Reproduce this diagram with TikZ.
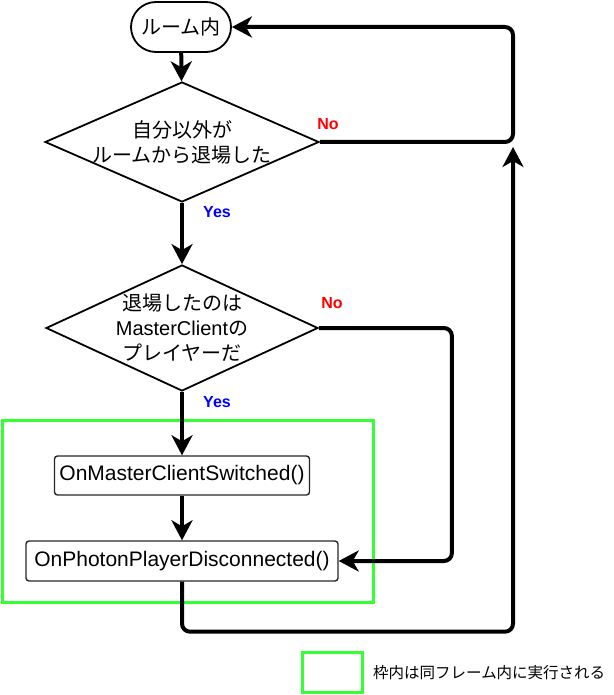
\documentclass[tikz,border=0pt]{standalone}
\usepackage{fontspec}
\setmainfont{Liberation Sans}
\newfontfamily\jp{Noto Sans CJK JP}
\usetikzlibrary{arrows.meta,shapes.geometric,positioning}
\definecolor{wakuiro}{RGB}{51,255,51}

\begin{document}
\begin{tikzpicture}[x=1pt, y=-1pt,
    flow/.style={line width=4pt, rounded corners=8pt, -{Stealth[length=20pt, width=21pt, inset=6pt]}},
    hantei/.style={draw, line width=1.8pt, diamond, shape aspect=2.3, inner sep=-8pt, align=center, font=\fontsize{20}{25}\selectfont},
    shori/.style={draw=black!85, line width=1.4pt, rounded corners=3pt, font=\fontsize{21}{24}\selectfont},
    yes/.style={text=blue, font=\fontsize{16}{18}\selectfont\bfseries},
    no/.style={text=red, font=\fontsize{16}{18}\selectfont\bfseries},
    waku/.style={draw=wakuiro, line width=3pt}]

    \useasboundingbox (0,0) rectangle (613,695);

    % 同フレームの枠の描画
    \draw[waku] (2,420) rectangle (373,602);

    % ノードの描画
    \node[draw, line width=1.8pt, rounded corners=25pt, minimum width=100pt, minimum height=50pt,
        font=\jp\fontsize{20}{24}\selectfont] (start) at (181,27) {ルーム内};
    \node[hantei, minimum width=274pt, minimum height=120pt] (q1) at (182,142)
        {{\jp 自分以外が}\\{\jp ルームから退場した}};
    \node[hantei, minimum width=272pt, minimum height=126pt] (q2) at (182,328)
        {{\jp 退場したのは}\\MasterClient{\jp の}\\{\jp プレイヤーだ}};
    \node[shori, minimum width=255pt, minimum height=39pt] (switched) at (182,475.5) {OnMasterClientSwitched()};
    \node[shori, minimum width=312pt, minimum height=40pt] (disconnected) at (182,561) {OnPhotonPlayerDisconnected()};
    \coordinate (merge) at (513,147);

    % 矢印の描画
    \draw[flow] (start) -- (q1);
    \draw[flow] (q1) -- (q2);
    \draw[flow] (q2) -- (switched);
    \draw[flow] (switched) -- (disconnected);
    \draw[flow] (q1.east) -- (q1.east -| merge) |- (start.east);
    \draw[flow] (q2.east) -- ++(133,0) |- (disconnected.east);
    \draw[flow] (disconnected.south) -- ++(0,50) -| (merge);

    % Yes / No の描画
    \node[no] (no1) at (328,124) {No};
    \node[yes] (yes1) at (217,212) {Yes};
    \node[no] (no2) at (332,303) {No};
    \node[yes] (yes2) at (217,402) {Yes};

    % 凡例の描画
    \node[waku, minimum width=60pt, minimum height=40pt] (hanreiwaku) at (332,672) {};
    \node[anchor=west, inner sep=0pt, font=\jp\fontsize{15.5}{19}\selectfont] (hanrei) at (373,673) {枠内は同フレーム内に実行される};

\end{tikzpicture}
\end{document}
